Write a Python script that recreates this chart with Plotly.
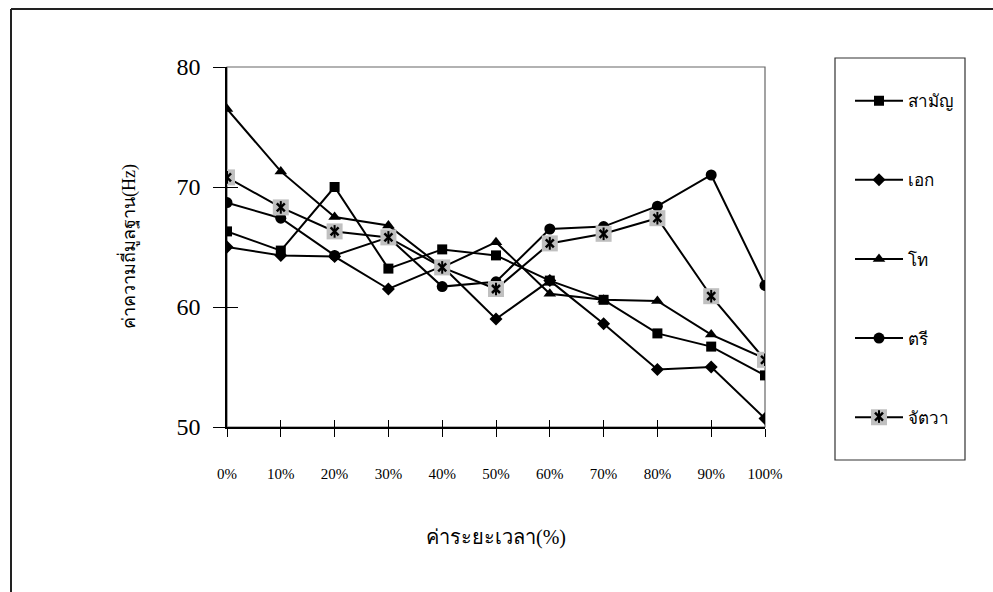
import plotly.graph_objects as go

# Relative time position (%) and tick labels
time_pct = [0, 10, 20, 30, 40, 50, 60, 70, 80, 90, 100]
tick_labels = ["0%", "10%", "20%", "30%", "40%", "50%", "60%", "70%", "80%", "90%", "100%"]

# Fundamental frequency (Hz) for each Thai tone
tone_samanya = [66.3, 64.7, 70.0, 63.2, 64.8, 64.3, 62.2, 60.6, 57.8, 56.7, 54.3]
tone_ek = [65.0, 64.3, 64.2, 61.5, 63.4, 59.0, 62.2, 58.6, 54.8, 55.0, 50.7]
tone_tho = [76.5, 71.3, 67.5, 66.8, 63.3, 65.4, 61.1, 60.6, 60.5, 57.7, 55.7]
tone_tri = [68.7, 67.4, 64.3, 65.8, 61.7, 62.1, 66.5, 66.7, 68.4, 71.0, 61.8]
tone_chattawa = [70.8, 68.3, 66.3, 65.8, 63.3, 61.5, 65.3, 66.1, 67.4, 60.9, 55.6]

SERIF = "Liberation Serif, Times New Roman, serif"
THAI = "Liberation Sans, Noto Sans, sans-serif"

fig = go.Figure()

series = [
    ("สามัญ", tone_samanya, dict(symbol="square", size=10, color="black")),
    ("เอก", tone_ek, dict(symbol="diamond", size=10, color="black")),
    ("โท", tone_tho, dict(symbol="triangle-up", size=11, color="black")),
    ("ตรี", tone_tri, dict(symbol="circle", size=11, color="black")),
    ("จัตวา", tone_chattawa, dict(symbol="square", size=16, color="#c0c0c0")),
]

for i, (name, vals, mk) in enumerate(series):
    fig.add_trace(go.Scatter(
        x=time_pct, y=vals, name=name, mode="lines+markers",
        line=dict(color="black", width=2),
        marker=dict(line=dict(width=0), **mk),
        legendgroup=f"g{i}",
    ))

# star glyph drawn on top of the grey squares of the last series;
# its legend entries sit exactly over the grey square in the main legend
LEG_X = 1.158
LEG_STAR_Y = (427 - 417) / 360
fig.add_trace(go.Scatter(
    x=time_pct, y=tone_chattawa, mode="markers", name=" ",
    legend="legend2",
    marker=dict(symbol="x-thin-open", size=8, color="black",
                line=dict(color="black", width=2.5)),
    hoverinfo="skip",
))
fig.add_trace(go.Scatter(
    x=time_pct, y=tone_chattawa, mode="markers", name=" ",
    legend="legend3",
    marker=dict(symbol="line-ns-open", size=9, color="black",
                line=dict(color="black", width=2)),
    hoverinfo="skip",
))

# invisible trace so the overlaid tick axes are drawn
fig.add_trace(go.Scatter(x=[None], y=[None], xaxis="x2", yaxis="y2",
                         showlegend=False, hoverinfo="skip"))

small_legend = dict(
    x=LEG_X, y=LEG_STAR_Y, xanchor="left", yanchor="middle",
    bgcolor="rgba(0,0,0,0)", borderwidth=0,
    font=dict(family=THAI, size=17, color="black"),
    itemwidth=48,
)

fig.update_layout(
    width=993, height=592,
    margin=dict(l=227, r=228, t=67, b=165),
    paper_bgcolor="white", plot_bgcolor="white",
    showlegend=True,
    xaxis=dict(
        range=[0, 100], tickvals=time_pct, ticktext=tick_labels,
        showgrid=False, zeroline=False,
        showline=True, linecolor="black", linewidth=1.5,
        ticks="outside", ticklen=8, tickwidth=1.2, tickcolor="black",
        ticklabelstandoff=24,
        tickfont=dict(family=SERIF, size=15, color="black"),
    ),
    xaxis2=dict(
        range=[0, 100], tickvals=time_pct, overlaying="x",
        showgrid=False, zeroline=False, showticklabels=False,
        ticks="inside", ticklen=7, tickwidth=1.2, tickcolor="black",
    ),
    yaxis=dict(
        range=[50, 80], tickvals=[50, 60, 70, 80],
        showgrid=False, zeroline=False,
        showline=True, linecolor="black", linewidth=1.5,
        ticks="outside", ticklen=12, tickwidth=1.2, tickcolor="black",
        ticklabelstandoff=8,
        tickfont=dict(family=SERIF, size=24, color="black"),
    ),
    yaxis2=dict(
        range=[50, 80], tickvals=[50, 60, 70, 80], overlaying="y",
        showgrid=False, zeroline=False, showticklabels=False,
        ticks="inside", ticklen=11, tickwidth=1.2, tickcolor="black",
    ),
    legend=dict(
        x=LEG_X, y=0.955, xanchor="left", yanchor="top",
        bgcolor="rgba(0,0,0,0)", borderwidth=0,
        font=dict(family=THAI, size=17, color="black"),
        tracegroupgap=54, itemwidth=48,
    ),
    legend2=small_legend,
    legend3=small_legend,
    shapes=[
        # plot area frame (top and right edges in grey)
        dict(type="rect", xref="paper", yref="paper", x0=0, x1=1, y0=0, y1=1,
             line=dict(color="#666666", width=1.2), layer="below"),
        # legend frame
        dict(type="rect", xref="paper", yref="paper",
             x0=(835 - 227) / 538, x1=(965 - 227) / 538,
             y0=(427 - 460) / 360, y1=(427 - 58) / 360,
             line=dict(color="#333333", width=1.2)),
        # outer figure frame
        dict(type="line", xref="paper", yref="paper",
             x0=(11 - 227) / 538, x1=2.0, y0=(427 - 9) / 360, y1=(427 - 9) / 360,
             line=dict(color="#222222", width=2)),
        dict(type="line", xref="paper", yref="paper",
             x0=(11 - 227) / 538, x1=(11 - 227) / 538, y0=(427 - 9) / 360, y1=-2.0,
             line=dict(color="#222222", width=2)),
    ],
    annotations=[
        dict(text="ค่าระยะเวลา(%)", xref="paper", yref="paper",
             x=(496 - 227) / 538, y=(427 - 537) / 360,
             xanchor="center", yanchor="middle", showarrow=False,
             font=dict(family=SERIF, size=20, color="black")),
        dict(text="ค่าความถี่มูลฐาน(Hz)", xref="paper", yref="paper",
             x=(128 - 227) / 538, y=(427 - 247) / 360, textangle=-90,
             xanchor="center", yanchor="middle", showarrow=False,
             font=dict(family=SERIF, size=18, color="black")),
    ],
)

fig.write_html("out.html")
